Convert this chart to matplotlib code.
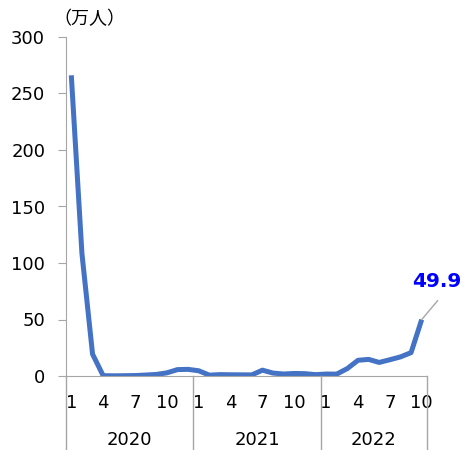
import matplotlib
matplotlib.use("Agg")
import matplotlib.pyplot as plt
from matplotlib.transforms import blended_transform_factory, offset_copy

years = ["2020", "2021", "2022"]
months_per_year = [12, 12, 10]
visitors = [266.1, 108.5, 19.4, 0.29, 0.17, 0.26, 0.39, 0.85, 1.37, 2.78, 5.66, 5.88,
            4.63, 0.74, 1.23, 1.09, 1.03, 0.97, 5.16, 2.58, 1.78, 2.24, 2.07, 1.2,
            1.73, 1.67, 6.61, 13.9, 14.7, 12.0, 14.4, 16.9, 20.7, 49.9]
shown_months = [1, 4, 7, 10]
last_label = "49.9"

gray = "#a6a6a6"
blue_line = "#4472C4"

fig = plt.figure(figsize=(4.65, 4.5), dpi=100)
ax = fig.add_axes([66 / 465, 1 - 376 / 450, 361 / 465, 339 / 450])

x = list(range(len(visitors)))
ax.plot(x, visitors, color=blue_line, lw=3.6, solid_capstyle="butt", solid_joinstyle="round")
ax.set_xlim(-0.5, len(visitors) - 0.5)
ax.set_ylim(0, 300)
ax.set_yticks(range(0, 301, 50))
ax.tick_params(axis="y", direction="out", length=6, color=gray, labelsize=13, pad=9)

for s in ["top", "right"]:
    ax.spines[s].set_visible(False)
ax.spines["left"].set_color(gray)
ax.spines["bottom"].set_color(gray)

# month labels
ticks, labels = [], []
start = 0
for n in months_per_year:
    for m in shown_months:
        if m <= n:
            ticks.append(start + m - 1)
            labels.append(str(m))
    start += n
ax.set_xticks(ticks)
ax.set_xticklabels(labels, fontsize=13)
ax.tick_params(axis="x", length=0, pad=13)

# year labels and separators
tr = blended_transform_factory(ax.transData, ax.transAxes)
year_tr = offset_copy(tr, fig=fig, x=0, y=-64, units="dots")
start = 0
bounds = [start - 0.5]
for yname, n in zip(years, months_per_year):
    ax.text(start + (n - 1) / 2, 0, yname, transform=year_tr, ha="center", va="center",
            fontsize=13)
    start += n
    bounds.append(start - 0.5)
for b in bounds:
    ax.plot([b, b], [0, -74 / 339], transform=tr, color=gray, lw=1, clip_on=False)

# last value annotation, leader ends a bit below the label
ax.annotate(last_label, xy=(x[-1], visitors[-1]), xytext=(15, 38), textcoords="offset pixels",
            ha="center", va="center", fontsize=14.5, fontweight="bold", color="#0000FF",
            arrowprops=dict(arrowstyle="-", color=gray, lw=1, shrinkA=0, shrinkB=0,
                            relpos=(0.52, -0.5)),
            annotation_clip=False)

fig.text(53 / 465, 1 - 19 / 450, "（万人）", fontsize=13, family=["Noto Sans CJK JP", "DejaVu Sans"],
         ha="left", va="center")

fig.savefig("out.png", dpi=100)
